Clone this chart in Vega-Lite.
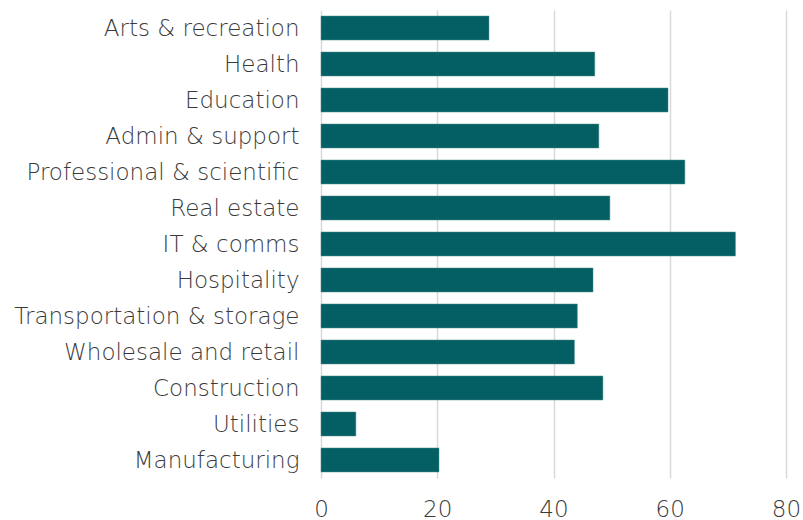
{
  "$schema": "https://vega.github.io/schema/vega-lite/v6.json",
  "autosize": "none",
  "width": 465,
  "height": 468,
  "padding": {"left": 321, "top": 10, "right": 17, "bottom": 42},
  "background": "white",
  "config": {"view": {"stroke": null}, "font": "DejaVu Sans"},
  "data": {"values": [
    {"industry": "Arts & recreation", "value": 28.9},
    {"industry": "Health", "value": 47.1},
    {"industry": "Education", "value": 59.7},
    {"industry": "Admin & support ", "value": 47.8},
    {"industry": "Professional & scientific", "value": 62.6},
    {"industry": "Real estate", "value": 49.7},
    {"industry": "IT & comms", "value": 71.3},
    {"industry": "Hospitality", "value": 46.8},
    {"industry": "Transportation & storage", "value": 44.1},
    {"industry": "Wholesale and retail ", "value": 43.6},
    {"industry": "Construction", "value": 48.5},
    {"industry": "Utilities", "value": 6.0},
    {"industry": "Manufacturing", "value": 20.3}
  ]},
  "mark": {"type": "bar", "color": "#035f63", "stroke": "#4f8f92", "strokeWidth": 0.5},
  "encoding": {
    "y": {
      "field": "industry", "type": "nominal", "sort": null,
      "scale": {"paddingInner": 0.333, "paddingOuter": 0.167},
      "axis": {"title": null, "ticks": false, "domain": false, "labelFontSize": 23, "labelFontWeight": 200, "labelColor": "#3a3a3a", "labelPadding": 22, "labelLimit": 320, "labelOffset": 1}
    },
    "x": {
      "field": "value", "type": "quantitative",
      "scale": {"domain": [0, 80], "nice": false},
      "axis": {"title": null, "values": [0, 20, 40, 60, 80], "ticks": false, "domain": false, "labelFontSize": 23, "labelFontWeight": 200, "labelColor": "#3a3a3a", "labelPadding": 20, "gridColor": "#d9d9d9", "gridWidth": 1.5, "labelFlush": false}
    }
  }
}
